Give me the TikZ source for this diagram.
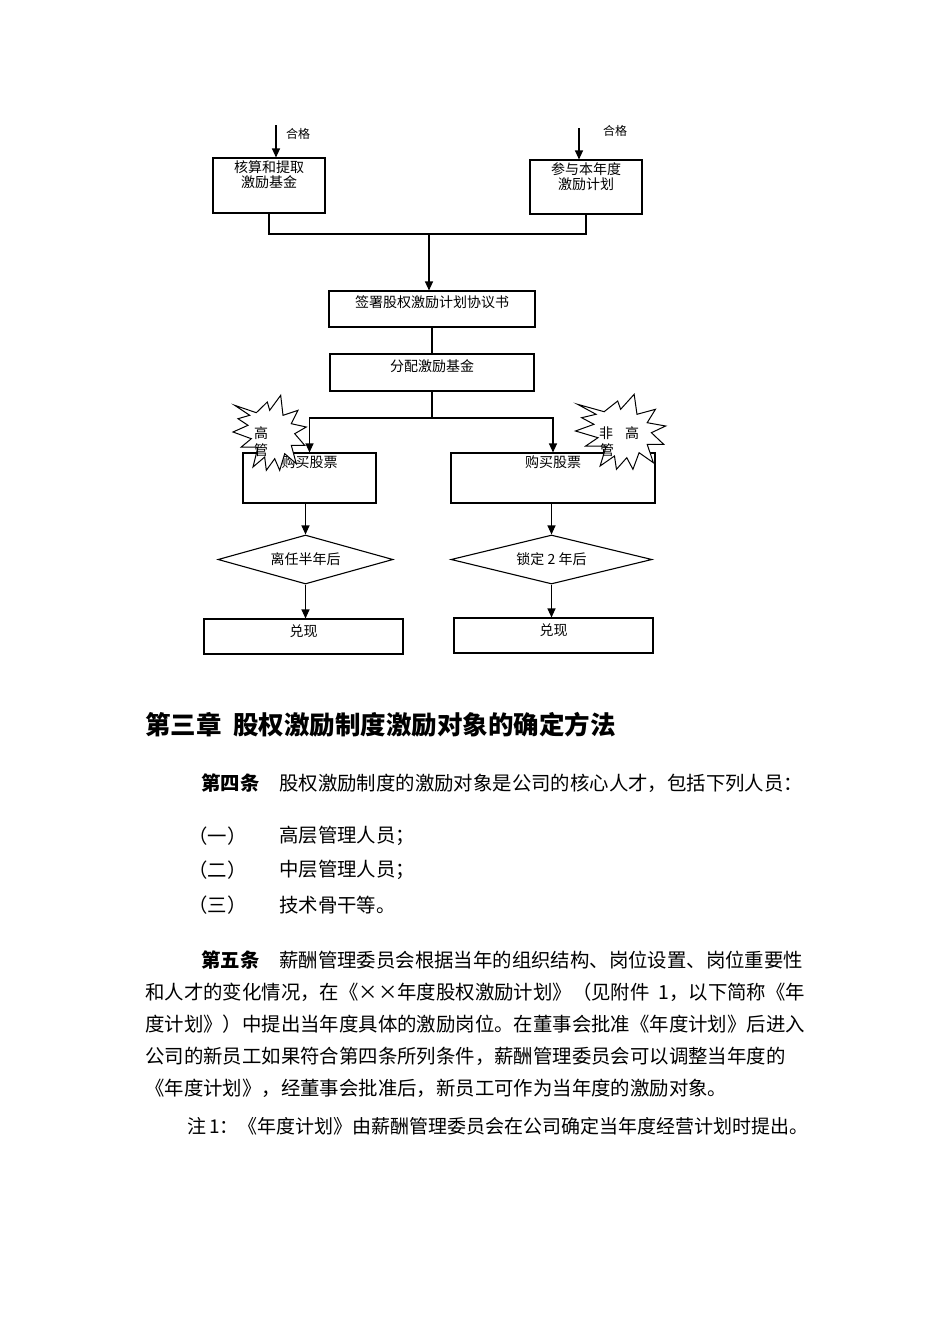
\documentclass[tikz,border=0pt]{standalone}
\usepackage{fontspec}
\setmainfont{Noto Sans CJK SC}
\usetikzlibrary{arrows.meta,shapes.geometric}
\XeTeXlinebreaklocale "zh"
\XeTeXlinebreakskip=0pt plus 1pt
\newcommand{\bodysize}{\fontsize{19.4pt}{20pt}\selectfont}
\tikzset{
  flowbox/.style={draw, line width=1.1pt, inner sep=0pt},
  boxtext/.style={inner sep=0pt, anchor=north, align=center, yshift=-#1,
    font=\fontsize{14pt}{15.5pt}\selectfont},
  midtext/.style={inner sep=0pt, font=\fontsize{14pt}{15.5pt}\selectfont},
  tag/.style={inner sep=0pt, font=\fontsize{12pt}{13pt}\selectfont},
  link/.style={line width=1.1pt},
  arr/.style={line width=1.1pt, -{Triangle[length=9pt,width=8pt]}},
  bodyline/.style={anchor=west, inner sep=0pt, font=\bodysize},
  burst/.pic={
    \draw[line width=1pt, fill=white] (-35.3,-27.7) -- (-13.7,-20.3) -- (-2.7,-31) -- (-0.3,-22.7)
      -- (10.7,-37.7) -- (13,-17.7) -- (28,-22.7) -- (21.3,-9.3) -- (36.3,-6) -- (24.7,0.7)
      -- (34.7,12.3) -- (21.3,12.3) -- (26.3,30.7) -- (14.7,20.7) -- (9.7,37.3) -- (4.7,25.7)
      -- (-3.7,37.3) -- (-5.3,24) -- (-17,34) -- (-12,14) -- (-28.7,14) -- (-18.7,5.7)
      -- (-37,-1) -- (-22,-7.7) -- (-32,-14.3) -- (-20.3,-17.7) -- cycle;
  }
}
\begin{document}
\begin{tikzpicture}[x=1pt, y=-1pt]
  \useasboundingbox[fill=white] (0,0) rectangle (950,1344);

  % flow chart
  \node[flowbox, minimum width=112pt, minimum height=55pt,
    label={[boxtext=3pt]north:核算和提取\\激励基金}] (calc) at (269,185.5) {};
  \node[flowbox, minimum width=112pt, minimum height=54pt,
    label={[boxtext=3pt]north:参与本年度\\激励计划}] (join) at (586,187) {};
  \node[flowbox, minimum width=206pt, minimum height=36pt,
    label={[boxtext=5pt]north:签署股权激励计划协议书}] (sign) at (432,309) {};
  \node[flowbox, minimum width=204pt, minimum height=37pt,
    label={[boxtext=6pt]north:分配激励基金}] (share) at (432,372.5) {};
  \node[flowbox, minimum width=133pt, minimum height=50pt,
    label={[boxtext=3pt]north:购买股票}] (buyA) at (309.5,478) {};
  \node[flowbox, minimum width=204pt, minimum height=50pt,
    label={[boxtext=3pt]north:购买股票}] (buyB) at (553,478) {};
  \node[flowbox, diamond, minimum width=175pt, minimum height=49pt,
    label={[midtext]center:离任半年后}] (waitA) at (305.5,559.5) {};
  \node[flowbox, diamond, minimum width=201pt, minimum height=49pt,
    label={[midtext]center:锁定 2 年后}] (waitB) at (551.5,559.5) {};
  \node[flowbox, minimum width=199pt, minimum height=35pt,
    label={[boxtext=6pt]north:兑现}] (cashA) at (303.5,636.5) {};
  \node[flowbox, minimum width=199pt, minimum height=35pt,
    label={[boxtext=6pt]north:兑现}] (cashB) at (553.5,635.5) {};

  % incoming arrows
  \coordinate (inA) at (276,125);
  \coordinate (inB) at (579,128);
  \draw[arr] (inA) -- (inA |- calc.north);
  \draw[arr] (inB) -- (inB |- join.north);
  \node[tag] (okA) at (298,134) {合格};
  \node[tag] (okB) at (615,131) {合格};

  % connectors
  \coordinate (mid) at (429,234);
  \draw[link] (calc.south) |- (mid) -| (join.south);
  \draw[arr] (mid) -- (mid |- sign.north);
  \draw[link] (sign.south) -- (share.north);
  \coordinate (fork) at (432,418);
  \draw[link] (share.south) -- (fork);
  \draw[arr] (fork) -| (buyA.north);
  \draw[arr] (fork) -| (buyB.north);
  \draw[arr] (buyA.south -| waitA.north) -- (waitA.north);
  \draw[arr] (buyB.south -| waitB.north) -- (waitB.north);
  \draw[arr] (waitA.south) -- (waitA.south |- cashA.north);
  \draw[arr] (waitB.south) -- (waitB.south |- cashB.north);

  % bursts
  \pic (burstA) at (270,433) {burst};
  \pic[xscale=1.23] (burstB) at (621,432) {burst};
  \node[midtext] (hiA) at (261,433) {高};
  \node[midtext] (mgA) at (261,450) {管};
  \node[midtext] (noB) at (606,433) {非};
  \node[midtext] (hiB) at (632,433) {高};
  \node[midtext] (mgB) at (607,450) {管};

  % text below
  \node[anchor=west, inner sep=0pt, font=\bfseries\fontsize{25.5pt}{26pt}\selectfont] (chap)
    at (145,725) {第三章\hspace{11.5pt}股权激励制度激励对象的确定方法};
  \node[bodyline, font=\bfseries\bodysize] (art4) at (201,783) {第四条};
  \node[bodyline] (art4t) at (279,783) {\makebox[506pt][s]{股权激励制度的激励对象是公司的核心人才，包括下列人员：}};
  \node[bodyline] (itA) at (188,836) {（一）};
  \node[bodyline] (itAt) at (279,836) {高层管理人员；};
  \node[bodyline] (itB) at (188,870) {（二）};
  \node[bodyline] (itBt) at (279,870) {中层管理人员；};
  \node[bodyline] (itC) at (188,905) {（三）};
  \node[bodyline] (itCt) at (279,905) {技术骨干等。};
  \node[bodyline, font=\bfseries\bodysize] (art5) at (201,960) {第五条};
  \node[bodyline] (art5a) at (279,960) {\makebox[526pt][s]{薪酬管理委员会根据当年的组织结构、岗位设置、岗位重要性}};
  \node[bodyline] (art5b) at (145,992) {\makebox[660pt][s]{和人才的变化情况，在《××年度股权激励计划》（见附件 1，以下简称《年}};
  \node[bodyline] (art5c) at (145,1024) {\makebox[660pt][s]{度计划》）中提出当年度具体的激励岗位。在董事会批准《年度计划》后进入}};
  \node[bodyline] (art5d) at (145,1056) {\makebox[660pt][s]{公司的新员工如果符合第四条所列条件，薪酬管理委员会可以调整当年度的}};
  \node[bodyline] (art5e) at (145,1088) {《年度计划》，经董事会批准后，新员工可作为当年度的激励对象。};
  \node[bodyline, font=\fontsize{19pt}{20pt}\selectfont] (note) at (187,1126) {\makebox[618pt][s]{注 1：《年度计划》由薪酬管理委员会在公司确定当年度经营计划时提出。}};
\end{tikzpicture}
\end{document}
